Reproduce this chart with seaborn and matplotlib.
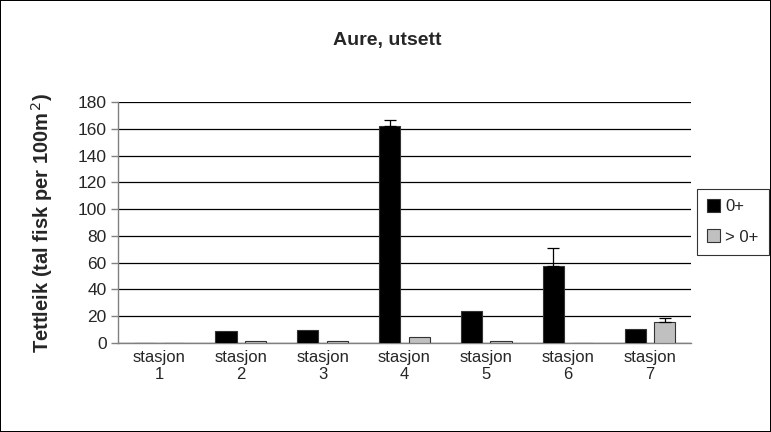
import pandas as pd
import seaborn as sns
import matplotlib.pyplot as plt

# ------------------------------
# Data
# ------------------------------
stasjonar = ["stasjon\n1", "stasjon\n2", "stasjon\n3", "stasjon\n4",
             "stasjon\n5", "stasjon\n6", "stasjon\n7"]
aldersgrupper = ["0+", "> 0+"]
tettleik_0 = [0.3, 8.8, 9.6, 162.0, 23.9, 57.8, 10.8]
tettleik_eldre = [0.3, 1.5, 1.3, 4.3, 1.5, 0.3, 15.6]
feil_0 = [0, 0, 0, 4.8, 0, 13.0, 0]
feil_eldre = [0, 0, 0, 0, 0, 0, 3.0]

df = pd.DataFrame({
    "stasjon": stasjonar * 2,
    "alder": [aldersgrupper[0]] * 7 + [aldersgrupper[1]] * 7,
    "tettleik": tettleik_0 + tettleik_eldre,
})

# ------------------------------
# Style
# ------------------------------
sns.set_style("white")
plt.rcParams['font.family'] = ['Liberation Sans', 'DejaVu Sans']

fig = plt.figure(figsize=(7.71, 4.32), dpi=100)
fig.patch.set_edgecolor("black")
fig.patch.set_linewidth(1.2)
ax = fig.add_axes([0.153, 0.206, 0.743, 0.558])

sns.barplot(data=df, x="stasjon", y="tettleik", hue="alder",
            hue_order=aldersgrupper, palette=["black", "#c0c0c0"],
            width=0.72, gap=0.28, edgecolor="#333333", linewidth=0.8,
            errorbar=None, ax=ax, legend=True, zorder=3)

# error bars (only upwards, Excel style)
for cont, errs in zip(ax.containers, [feil_0, feil_eldre]):
    for bar, e in zip(cont, errs):
        if e > 0:
            x = bar.get_x() + bar.get_width() / 2
            ax.errorbar(x, bar.get_height(), yerr=[[0], [e]], fmt="none",
                        ecolor="black", elinewidth=0.9, capsize=4,
                        capthick=0.9, zorder=4)

ax.set_ylim(0, 180)
ax.set_xlim(-0.5, 6.5)
ax.set_yticks(range(0, 181, 20))
ax.yaxis.grid(True, color="black", linewidth=0.9, zorder=0)
ax.xaxis.grid(False)
for s in ["top", "right"]:
    ax.spines[s].set_visible(False)
for s in ["left", "bottom"]:
    ax.spines[s].set_color("#808080")
    ax.spines[s].set_linewidth(1.0)

ax.set_xticks(range(7))
ax.set_xticks([i - 0.5 for i in range(8)], minor=True)
ax.tick_params(axis="x", which="major", length=0, labelsize=12, pad=5)
ax.tick_params(axis="x", which="minor", length=5, color="#808080", width=1)
ax.tick_params(axis="y", length=5, color="#808080", width=1, labelsize=12.5,
               left=True, pad=3)

ax.set_xlabel("")
ax.set_ylabel("Tettleik (tal fisk per 100m$^{\\,2}$)", fontsize=14.5,
              fontweight="bold")
ax.yaxis.set_label_coords(-0.11, 0.5)

fig.text(0.502, 1 - 40 / 432, "Aure, utsett", ha="center", va="center",
         fontsize=14, fontweight="bold")

ax.get_legend().remove()
handles, labels = ax.get_legend_handles_labels()
leg = fig.legend(handles, labels, loc="upper left",
                 bbox_to_anchor=(0.904, 0.562), borderaxespad=0,
                 frameon=True, fancybox=False,
                 edgecolor="black", fontsize=12, handlelength=0.8,
                 handleheight=0.8, handletextpad=0.3, labelspacing=0.9,
                 borderpad=0.6)
leg.get_frame().set_linewidth(0.8)

plt.savefig("out.png", dpi=100, edgecolor=fig.get_edgecolor())
